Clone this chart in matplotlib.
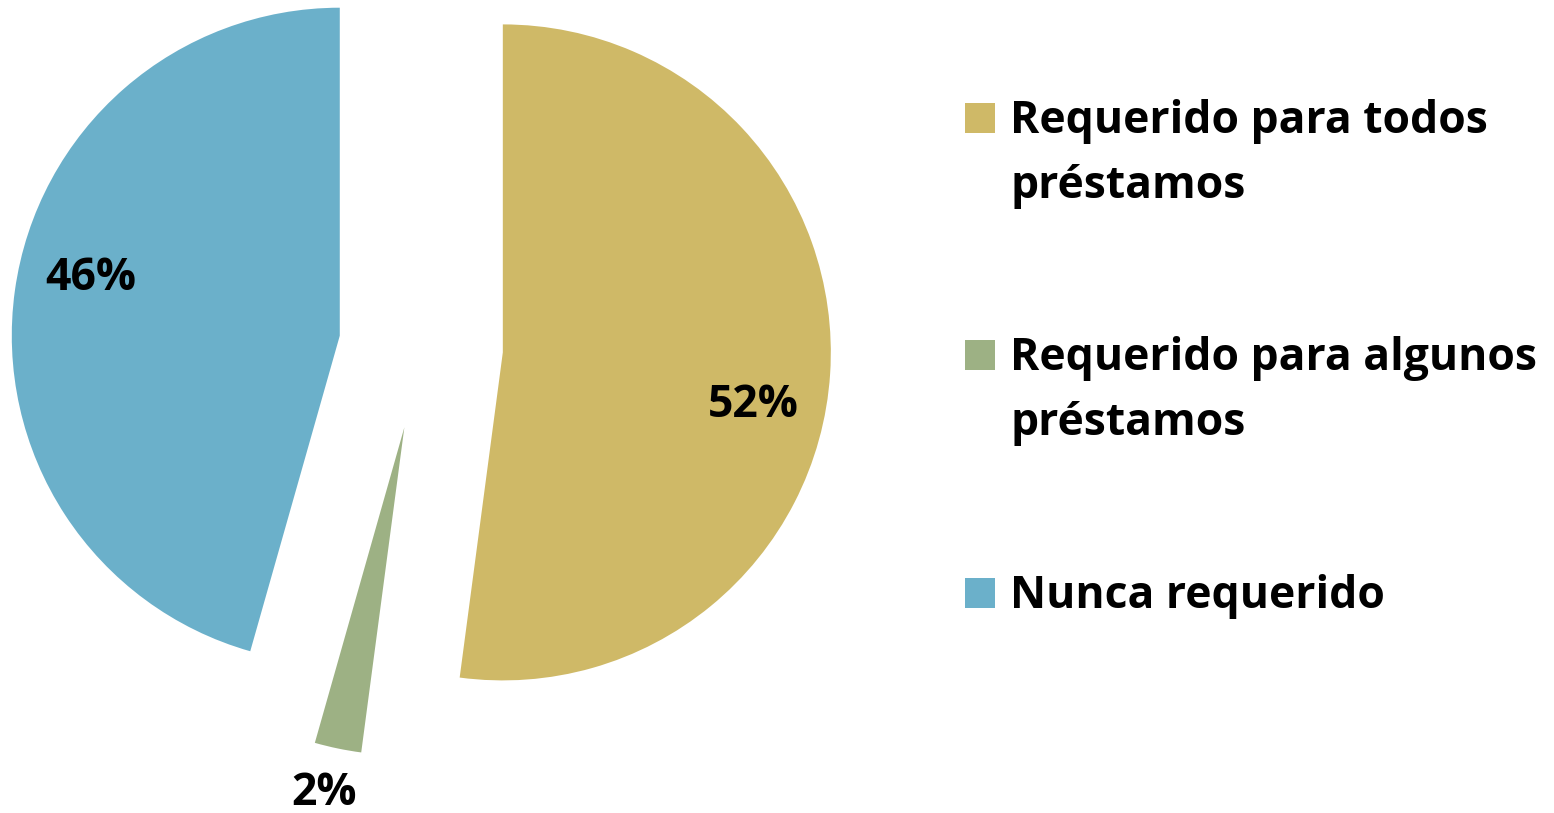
import matplotlib
matplotlib.use("Agg")
import matplotlib.pyplot as plt
from matplotlib.patches import Rectangle

categories = ["Requerido para todos\npréstamos",
              "Requerido para algunos\npréstamos",
              "Nunca requerido"]
values = [52.1, 2.3, 45.6]
pct_labels = ["52%", "2%", "46%"]
colors = ["#CFB967", "#9DB184", "#6BB0CA"]

W, H = 1554, 813
fig = plt.figure(figsize=(W / 100, H / 100), dpi=100)
ax = fig.add_axes([0, 0, 1, 1])

R = 328
cx, cy = 421, -347
wedges, _ = ax.pie(values, colors=colors, startangle=90, counterclock=False,
                   radius=R, center=(cx, cy), explode=[0.25 * R] * 3,
                   wedgeprops=dict(linewidth=0))
ax.set_aspect("auto")
ax.set_xlim(0, W)
ax.set_ylim(-H, 0)
ax.axis("off")

FONT = ["Open Sans", "DejaVu Sans"]
label_pos = [(753, -405), (324, -793), (91, -278)]
for (x, y), lab in zip(label_pos, pct_labels):
    ax.text(x, y, lab, ha="center", va="center", fontsize=32,
            fontweight="bold", family=FONT, color="black")

# legend
baselines = [133, 370, 608]
line_gap = 65
for cat, col, b in zip(categories, colors, baselines):
    ax.add_patch(Rectangle((965, -b), 30, 30, facecolor=col, edgecolor="none"))
    for k, line in enumerate(cat.split("\n")):
        ax.text(1010, -(b + k * line_gap), line, ha="left", va="baseline",
                fontsize=32, fontweight="bold", family=FONT, color="black")

fig.savefig("out.png", dpi=100)
